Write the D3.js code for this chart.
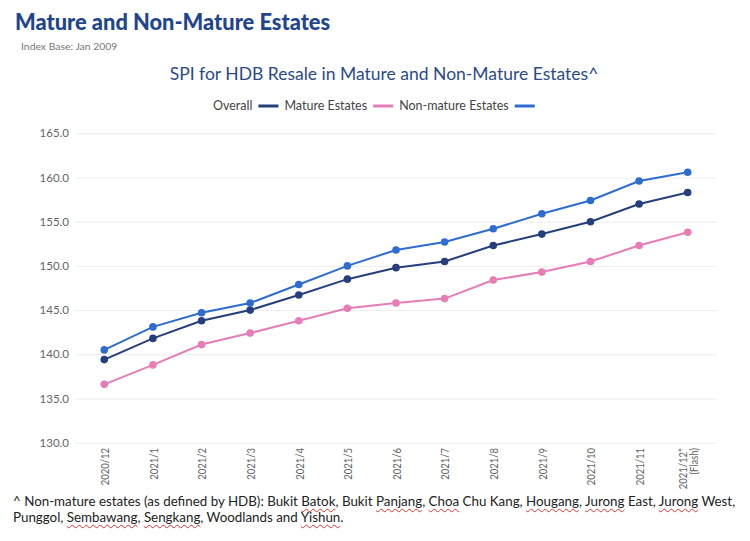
<!DOCTYPE html>
<html>
<head>
<meta charset="utf-8">
<script src="https://cdn.jsdelivr.net/npm/d3@7"></script>
<style>
  body { margin: 0; background: #fff; }
  #wrap { position: relative; width: 750px; height: 541px; }
  #note {
    position: absolute; left: 13px; top: 493px; width: 735px;
    font-family: Lato, "Noto Sans", sans-serif; font-size: 13.35px; line-height: 16px; color: #222;
    white-space: nowrap;
  }
  #note u { text-decoration: underline wavy #d33; text-decoration-thickness: 1px; text-underline-offset: 2px; }
</style>
</head>
<body>
<div id="wrap">
  <svg id="chart" width="750" height="541"></svg>
  <div id="note">^ Non-mature estates (as defined by HDB): Bukit <u>Batok</u>, Bukit <u>Panjang</u>, <u>Choa</u> Chu Kang, <u>Hougang</u>, <u>Jurong</u> East, <u>Jurong</u> West,<br>Punggol, <u>Sembawang</u>, <u>Sengkang</u>, Woodlands and <u>Yishun</u>.</div>
</div>
<script>
const months = ["2020/12", "2021/1", "2021/2", "2021/3", "2021/4", "2021/5", "2021/6",
  "2021/7", "2021/8", "2021/9", "2021/10", "2021/11", "2021/12*|(Flash)"];
const overall = [139.4, 141.8, 143.8, 145.0, 146.7, 148.5, 149.8, 150.5, 152.3, 153.6, 155.0, 157.0, 158.3];
const mature = [136.6, 138.8, 141.1, 142.4, 143.8, 145.2, 145.8, 146.3, 148.4, 149.3, 150.5, 152.3, 153.8];
const nonMature = [140.5, 143.1, 144.7, 145.8, 147.9, 150.0, 151.8, 152.7, 154.2, 155.9, 157.4, 159.6, 160.6];
const yTicks = [130, 135, 140, 145, 150, 155, 160, 165];

const series = [
  { name: "Overall", values: overall, color: "#253f7d" },
  { name: "Mature Estates", values: mature, color: "#e87cb6" },
  { name: "Non-mature Estates", values: nonMature, color: "#2e6cd2" }
];

const font = "Lato, 'Noto Sans', sans-serif";
const svg = d3.select("#chart");

// headings
svg.append("text").attr("x", 15).attr("y", 30)
  .attr("font-family", font).attr("font-weight", 900).attr("font-size", 21.8)
  .attr("fill", "#1f4590").text("Mature and Non-Mature Estates");
svg.append("text").attr("x", 21).attr("y", 50)
  .attr("font-family", font).attr("font-size", 10.4).attr("fill", "#777")
  .text("Index Base: Jan 2009");
svg.append("text").attr("x", 384).attr("y", 80).attr("text-anchor", "middle")
  .attr("font-family", font).attr("font-size", 17.5).attr("fill", "#2b4a8a")
  .text("SPI for HDB Resale in Mature and Non-Mature Estates^");

// legend: label then swatch, as drawn in the reference
const legend = svg.append("g").attr("font-family", font).attr("font-size", 12.5).attr("fill", "#444");
let lx = 213;
series.forEach(s => {
  const t = legend.append("text").attr("x", lx).attr("y", 110).text(s.name);
  lx += t.node().getComputedTextLength() + 6;
  legend.append("line").attr("x1", lx).attr("x2", lx + 20).attr("y1", 106).attr("y2", 106)
    .attr("stroke", s.color).attr("stroke-width", 3);
  lx += 26;
});

const x = d3.scalePoint().domain(months).range([80, 712]).padding(0.5);
const y = d3.scaleLinear().domain([130, 165]).range([442.7, 133.3]);

// gridlines + y labels
const yAxis = svg.append("g").attr("transform", "translate(75,0)")
  .call(d3.axisLeft(y).tickValues(yTicks).tickFormat(d3.format(".1f")).tickSize(-642).tickPadding(6));
yAxis.select(".domain").remove();
yAxis.selectAll(".tick line").attr("stroke", "#ececec");
yAxis.selectAll(".tick text").attr("font-family", font).attr("font-size", 11.5).attr("fill", "#666");

// x labels, rotated and a little condensed
const xAxis = svg.append("g").attr("transform", "translate(0,443)")
  .call(d3.axisBottom(x).tickSize(0).tickFormat(""));
xAxis.select(".domain").remove();
xAxis.selectAll(".tick").each(function(d) {
  const parts = d.split("|");
  const g = d3.select(this);
  parts.forEach((p, i) => {
    const t = g.append("text")
      .attr("transform", `translate(${(i - (parts.length - 1) / 2) * 10.5},5) rotate(-90)`)
      .attr("dy", "0.35em").attr("text-anchor", "end")
      .attr("font-family", font).attr("font-size", 12.3).attr("fill", "#666")
      .text(p);
    const w = t.node().getComputedTextLength();
    t.attr("textLength", w * 0.77).attr("lengthAdjust", "spacingAndGlyphs");
  });
});

// lines and markers
const line = d3.line().x((d, i) => x(months[i])).y(d => y(d));
series.forEach(s => {
  svg.append("path").datum(s.values).attr("d", line)
    .attr("fill", "none").attr("stroke", s.color).attr("stroke-width", 2);
  svg.append("g").selectAll("circle").data(s.values).join("circle")
    .attr("cx", (d, i) => x(months[i])).attr("cy", d => y(d)).attr("r", 3.8)
    .attr("fill", s.color);
});
</script>
</body>
</html>
